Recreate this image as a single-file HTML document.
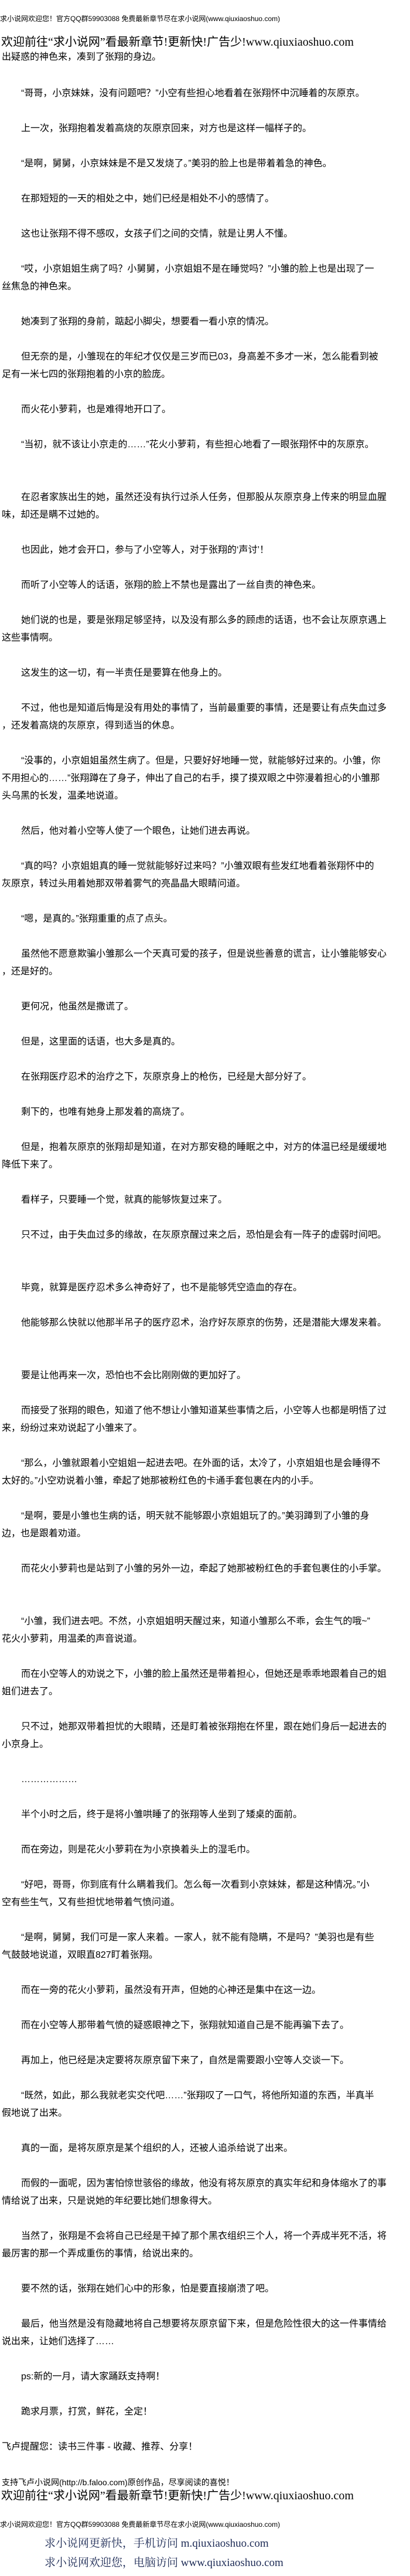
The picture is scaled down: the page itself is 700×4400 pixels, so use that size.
<!DOCTYPE html>
<html><head><meta charset="utf-8">
<style>
html,body{margin:0;padding:0;background:#fff;}
body{width:700px;height:4400px;position:relative;overflow:hidden;font-family:"Liberation Sans","Noto Sans CJK SC",sans-serif;color:#000;}
.l{position:absolute;left:3px;height:30px;line-height:30px;font-size:16px;white-space:nowrap;}
.i{left:36px;}
.h{font-size:12px;left:0;}
.b{font-size:20px;font-family:"Liberation Serif","Noto Sans CJK SC",serif;left:2px;}
.s{font-size:14px;}
.n{font-family:"Liberation Serif","Noto Serif CJK SC",serif;font-size:19px;color:#1c2a55;left:76px;}
</style></head><body>
<div class="l h" style="top:17px">求小说网欢迎您！官方QQ群59903088 免费最新章节尽在求小说网(www.qiuxiaoshuo.com)</div>
<div class="l b" style="top:57px">欢迎前往“求小说网”看最新章节!更新快!广告少!www.qiuxiaoshuo.com</div>
<div class="l" style="top:83px">出疑惑的神色来，凑到了张翔的身边。</div>
<div class="l i" style="top:145px">“哥哥，小京妹妹，没有问题吧？”小空有些担心地看着在张翔怀中沉睡着的灰原京。</div>
<div class="l i" style="top:205px">上一次，张翔抱着发着高烧的灰原京回来，对方也是这样一幅样子的。</div>
<div class="l i" style="top:265px">“是啊，舅舅，小京妹妹是不是又发烧了。”美羽的脸上也是带着着急的神色。</div>
<div class="l i" style="top:325px">在那短短的一天的相处之中，她们已经是相处不小的感情了。</div>
<div class="l i" style="top:385px">这也让张翔不得不感叹，女孩子们之间的交情，就是让男人不懂。</div>
<div class="l i" style="top:445px">“哎，小京姐姐生病了吗？小舅舅，小京姐姐不是在睡觉吗？”小雏的脸上也是出现了一</div>
<div class="l" style="top:475px">丝焦急的神色来。</div>
<div class="l i" style="top:535px">她凑到了张翔的身前，踮起小脚尖，想要看一看小京的情况。</div>
<div class="l i" style="top:595px">但无奈的是，小雏现在的年纪才仅仅是三岁而已03，身高差不多才一米，怎么能看到被</div>
<div class="l" style="top:625px">足有一米七四的张翔抱着的小京的脸庞。</div>
<div class="l i" style="top:685px">而火花小萝莉，也是难得地开口了。</div>
<div class="l i" style="top:745px">“当初，就不该让小京走的……”花火小萝莉，有些担心地看了一眼张翔怀中的灰原京。</div>
<div class="l i" style="top:835px">在忍者家族出生的她，虽然还没有执行过杀人任务，但那股从灰原京身上传来的明显血腥</div>
<div class="l" style="top:865px">味，却还是瞒不过她的。</div>
<div class="l i" style="top:925px">也因此，她才会开口，参与了小空等人，对于张翔的‘声讨’！</div>
<div class="l i" style="top:985px">而听了小空等人的话语，张翔的脸上不禁也是露出了一丝自责的神色来。</div>
<div class="l i" style="top:1045px">她们说的也是，要是张翔足够坚持，以及没有那么多的顾虑的话语，也不会让灰原京遇上</div>
<div class="l" style="top:1075px">这些事情啊。</div>
<div class="l i" style="top:1135px">这发生的这一切，有一半责任是要算在他身上的。</div>
<div class="l i" style="top:1195px">不过，他也是知道后悔是没有用处的事情了，当前最重要的事情，还是要让有点失血过多</div>
<div class="l" style="top:1225px">，还发着高烧的灰原京，得到适当的休息。</div>
<div class="l i" style="top:1285px">“没事的，小京姐姐虽然生病了。但是，只要好好地睡一觉，就能够好过来的。小雏，你</div>
<div class="l" style="top:1315px">不用担心的……”张翔蹲在了身子，伸出了自己的右手，摸了摸双眼之中弥漫着担心的小雏那</div>
<div class="l" style="top:1345px">头乌黑的长发，温柔地说道。</div>
<div class="l i" style="top:1405px">然后，他对着小空等人使了一个眼色，让她们进去再说。</div>
<div class="l i" style="top:1465px">“真的吗？小京姐姐真的睡一觉就能够好过来吗？”小雏双眼有些发红地看着张翔怀中的</div>
<div class="l" style="top:1495px">灰原京，转过头用着她那双带着雾气的亮晶晶大眼睛问道。</div>
<div class="l i" style="top:1555px">“嗯，是真的。”张翔重重的点了点头。</div>
<div class="l i" style="top:1615px">虽然他不愿意欺骗小雏那么一个天真可爱的孩子，但是说些善意的谎言，让小雏能够安心</div>
<div class="l" style="top:1645px">，还是好的。</div>
<div class="l i" style="top:1705px">更何况，他虽然是撒谎了。</div>
<div class="l i" style="top:1765px">但是，这里面的话语，也大多是真的。</div>
<div class="l i" style="top:1825px">在张翔医疗忍术的治疗之下，灰原京身上的枪伤，已经是大部分好了。</div>
<div class="l i" style="top:1885px">剩下的，也唯有她身上那发着的高烧了。</div>
<div class="l i" style="top:1945px">但是，抱着灰原京的张翔却是知道，在对方那安稳的睡眠之中，对方的体温已经是缓缓地</div>
<div class="l" style="top:1975px">降低下来了。</div>
<div class="l i" style="top:2035px">看样子，只要睡一个觉，就真的能够恢复过来了。</div>
<div class="l i" style="top:2095px">只不过，由于失血过多的缘故，在灰原京醒过来之后，恐怕是会有一阵子的虚弱时间吧。</div>
<div class="l i" style="top:2185px">毕竟，就算是医疗忍术多么神奇好了，也不是能够凭空造血的存在。</div>
<div class="l i" style="top:2245px">他能够那么快就以他那半吊子的医疗忍术，治疗好灰原京的伤势，还是潜能大爆发来着。</div>
<div class="l i" style="top:2335px">要是让他再来一次，恐怕也不会比刚刚做的更加好了。</div>
<div class="l i" style="top:2395px">而接受了张翔的眼色，知道了他不想让小雏知道某些事情之后，小空等人也都是明悟了过</div>
<div class="l" style="top:2425px">来，纷纷过来劝说起了小雏来了。</div>
<div class="l i" style="top:2485px">“那么，小雏就跟着小空姐姐一起进去吧。在外面的话，太冷了，小京姐姐也是会睡得不</div>
<div class="l" style="top:2515px">太好的。”小空劝说着小雏，牵起了她那被粉红色的卡通手套包裹在内的小手。</div>
<div class="l i" style="top:2575px">“是啊，要是小雏也生病的话，明天就不能够跟小京姐姐玩了的。”美羽蹲到了小雏的身</div>
<div class="l" style="top:2605px">边，也是跟着劝道。</div>
<div class="l i" style="top:2665px">而花火小萝莉也是站到了小雏的另外一边，牵起了她那被粉红色的手套包裹住的小手掌。</div>
<div class="l i" style="top:2755px">“小雏，我们进去吧。不然，小京姐姐明天醒过来，知道小雏那么不乖，会生气的哦~”</div>
<div class="l" style="top:2785px">花火小萝莉，用温柔的声音说道。</div>
<div class="l i" style="top:2845px">而在小空等人的劝说之下，小雏的脸上虽然还是带着担心，但她还是乖乖地跟着自己的姐</div>
<div class="l" style="top:2875px">姐们进去了。</div>
<div class="l i" style="top:2935px">只不过，她那双带着担忧的大眼睛，还是盯着被张翔抱在怀里，跟在她们身后一起进去的</div>
<div class="l" style="top:2965px">小京身上。</div>
<div class="l i" style="top:3025px">………………</div>
<div class="l i" style="top:3085px">半个小时之后，终于是将小雏哄睡了的张翔等人坐到了矮桌的面前。</div>
<div class="l i" style="top:3145px">而在旁边，则是花火小萝莉在为小京换着头上的湿毛巾。</div>
<div class="l i" style="top:3205px">“好吧，哥哥，你到底有什么瞒着我们。怎么每一次看到小京妹妹，都是这种情况。”小</div>
<div class="l" style="top:3235px">空有些生气，又有些担忧地带着气愤问道。</div>
<div class="l i" style="top:3295px">“是啊，舅舅，我们可是一家人来着。一家人，就不能有隐瞒，不是吗？”美羽也是有些</div>
<div class="l" style="top:3325px">气鼓鼓地说道，双眼直827盯着张翔。</div>
<div class="l i" style="top:3385px">而在一旁的花火小萝莉，虽然没有开声，但她的心神还是集中在这一边。</div>
<div class="l i" style="top:3445px">而在小空等人那带着气愤的疑惑眼神之下，张翔就知道自己是不能再骗下去了。</div>
<div class="l i" style="top:3505px">再加上，他已经是决定要将灰原京留下来了，自然是需要跟小空等人交谈一下。</div>
<div class="l i" style="top:3565px">“既然，如此，那么我就老实交代吧……”张翔叹了一口气，将他所知道的东西，半真半</div>
<div class="l" style="top:3595px">假地说了出来。</div>
<div class="l i" style="top:3655px">真的一面，是将灰原京是某个组织的人，还被人追杀给说了出来。</div>
<div class="l i" style="top:3715px">而假的一面呢，因为害怕惊世骇俗的缘故，他没有将灰原京的真实年纪和身体缩水了的事</div>
<div class="l" style="top:3745px">情给说了出来，只是说她的年纪要比她们想象得大。</div>
<div class="l i" style="top:3805px">当然了，张翔是不会将自己已经是干掉了那个黑衣组织三个人，将一个弄成半死不活，将</div>
<div class="l" style="top:3835px">最厉害的那一个弄成重伤的事情，给说出来的。</div>
<div class="l i" style="top:3895px">要不然的话，张翔在她们心中的形象，怕是要直接崩溃了吧。</div>
<div class="l i" style="top:3955px">最后，他当然是没有隐藏地将自己想要将灰原京留下来，但是危险性很大的这一件事情给</div>
<div class="l" style="top:3985px">说出来，让她们选择了……</div>
<div class="l i" style="top:4045px">ps:新的一月，请大家踊跃支持啊！</div>
<div class="l i" style="top:4105px">跪求月票，打赏，鲜花，全定！</div>
<div class="l" style="top:4165px">飞卢提醒您：读书三件事 - 收藏、推荐、分享！</div>
<div class="l s" style="top:4225px">支持飞卢小说网(http://b.faloo.com)原创作品，尽享阅读的喜悦！</div>
<div class="l b" style="top:4248px">欢迎前往“求小说网”看最新章节!更新快!广告少!www.qiuxiaoshuo.com</div>
<div class="l h" style="top:4297px">求小说网欢迎您！官方QQ群59903088 免费最新章节尽在求小说网(www.qiuxiaoshuo.com)</div>
<div class="l n" style="top:4330px">求小说网更新快，手机访问 m.qiuxiaoshuo.com</div>
<div class="l n" style="top:4363px">求小说网欢迎您，电脑访问 www.qiuxiaoshuo.com</div>
</body></html>
